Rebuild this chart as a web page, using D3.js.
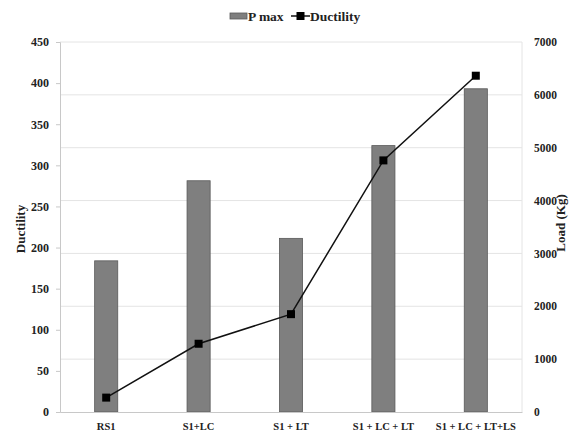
<!DOCTYPE html>
<html>
<head>
<meta charset="utf-8">
<script src="https://cdn.jsdelivr.net/npm/d3@7"></script>
<style>
  body { margin: 0; background: #fff; }
  text { font-family: "Liberation Serif", "Times New Roman", serif; font-weight: bold; fill: #222; }
</style>
</head>
<body>
<div id="chart"></div>
<script>
// data
const categories = ["RS1", "S1+LC", "S1 + LT", "S1 + LC + LT", "S1 + LC + LT+LS"];
const pMax = [2860, 4375, 3285, 5040, 6115];        // Load (Kg), right axis
const ductility = [17.5, 83, 119, 306, 409];        // left axis
const leftTicks = [0, 50, 100, 150, 200, 250, 300, 350, 400, 450];
const rightTicks = [0, 1000, 2000, 3000, 4000, 5000, 6000, 7000];

const W = 581, H = 435;
const margin = { top: 42, right: 59, bottom: 23, left: 60 };
const width = W - margin.left - margin.right;
const height = H - margin.top - margin.bottom;

const svg = d3.select("#chart").append("svg")
  .attr("width", W).attr("height", H);
const g = svg.append("g").attr("transform", `translate(${margin.left},${margin.top})`);

const x = d3.scaleBand().domain(categories).range([0, width]).padding(0);
const yL = d3.scaleLinear().domain([0, 450]).range([height, 0]);
const yR = d3.scaleLinear().domain([0, 7000]).range([height, 0]);

// gridlines (follow the load axis)
g.append("g").selectAll("line")
  .data(rightTicks.filter(d => d > 0))
  .join("line")
  .attr("x1", 0).attr("x2", width)
  .attr("y1", d => yR(d)).attr("y2", d => yR(d))
  .attr("stroke", "#e4e4e4").attr("stroke-width", 1);
g.append("line")
  .attr("x1", width).attr("x2", width).attr("y1", 0).attr("y2", height)
  .attr("stroke", "#e4e4e4");

// bars
const barW = x.bandwidth() * 0.25;
g.selectAll(".bar")
  .data(pMax)
  .join("rect")
  .attr("class", "bar")
  .attr("x", (d, i) => x(categories[i]) + x.bandwidth() / 2 - barW / 2)
  .attr("width", barW)
  .attr("y", d => yR(d))
  .attr("height", d => height - yR(d))
  .attr("fill", "#7f7f7f")
  .attr("stroke", "#5a5a5a")
  .attr("stroke-width", 0.8);

// left axis
const axL = g.append("g")
  .call(d3.axisLeft(yL).tickValues(leftTicks).tickSize(4).tickPadding(7));
axL.select(".domain").attr("stroke", "#c8c8c8");
axL.selectAll(".tick line").attr("stroke", "#c8c8c8");
axL.selectAll("text").style("font-size", "12px").attr("fill", "#222");

// right axis
const axR = g.append("g").attr("transform", `translate(${width},0)`)
  .call(d3.axisRight(yR).tickValues(rightTicks).tickFormat(d3.format("d")).tickSize(0).tickPadding(12));
axR.select(".domain").remove();
axR.selectAll("text").style("font-size", "11.5px").attr("fill", "#222");

// bottom axis
const axB = g.append("g").attr("transform", `translate(0,${height})`)
  .call(d3.axisBottom(x).tickSize(0).tickPadding(11));
axB.select(".domain").attr("stroke", "#c8c8c8");
axB.selectAll("text").style("font-size", "10.5px").attr("fill", "#222");

// ductility line
const line = d3.line()
  .x((d, i) => x(categories[i]) + x.bandwidth() / 2)
  .y(d => yL(d));
g.append("path")
  .datum(ductility)
  .attr("d", line)
  .attr("fill", "none")
  .attr("stroke", "#111")
  .attr("stroke-width", 1.5);
g.selectAll(".pt")
  .data(ductility)
  .join("rect")
  .attr("class", "pt")
  .attr("x", (d, i) => x(categories[i]) + x.bandwidth() / 2 - 4)
  .attr("y", d => yL(d) - 4)
  .attr("width", 8).attr("height", 8)
  .attr("fill", "#000");

// axis titles
svg.append("text")
  .attr("transform", `translate(25,${margin.top + height / 2 + 2}) rotate(-90)`)
  .attr("text-anchor", "middle")
  .style("font-size", "13px")
  .text("Ductility");
svg.append("text")
  .attr("transform", `translate(565,${margin.top + height / 2 - 4}) rotate(-90)`)
  .attr("text-anchor", "middle")
  .style("font-size", "13px")
  .text("Load (Kg)");

// legend
const lg = svg.append("g");
lg.append("rect").attr("x", 230).attr("y", 13).attr("width", 17).attr("height", 6)
  .attr("fill", "#7f7f7f").attr("stroke", "#5a5a5a").attr("stroke-width", 0.8);
lg.append("text").attr("x", 248).attr("y", 20.5).style("font-size", "13.5px").text("P max");
lg.append("line").attr("x1", 291).attr("x2", 310).attr("y1", 16).attr("y2", 16)
  .attr("stroke", "#111").attr("stroke-width", 1.5);
lg.append("rect").attr("x", 296.5).attr("y", 12).attr("width", 8).attr("height", 8).attr("fill", "#000");
lg.append("text").attr("x", 310).attr("y", 20.5).style("font-size", "13.5px").text("Ductility");
</script>
</body>
</html>
